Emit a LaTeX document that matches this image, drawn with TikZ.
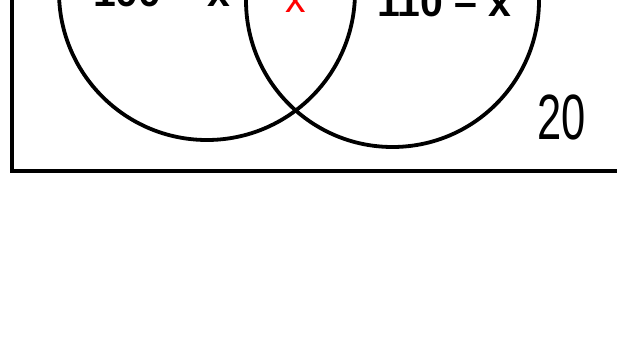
\documentclass[tikz,border=0pt]{standalone}
\usepackage{fontspec}
\setmainfont{Liberation Sans}
\begin{document}
\begin{tikzpicture}[x=1pt,y=-1pt,
  stroke/.style={line width=3.8pt,black},
  lbl/.style={inner sep=0pt,anchor=base west,font=\bfseries\fontsize{41}{41}\selectfont},
  bigl/.style={inner sep=0pt,anchor=base west,font=\fontsize{64}{64}\selectfont}]
\useasboundingbox (0,0) rectangle (617,362);
\clip (0,0) rectangle (617,362);
\draw[stroke] (12,-10) -- (12,171) -- (620,171);
\draw[stroke] (207,-8) circle[radius=148];
\draw[stroke] (392.5,0.5) circle[radius=146.5];
\node[lbl] (a) at (93,6) {100 – x};
\node[lbl,text=red,font=\fontsize{41}{41}\selectfont] (b) at (285,12) {x};
\node[lbl] (c) at (377,16) {110 – x};
\node[bigl,xscale=0.68] (d) at (537,139) {20};
\end{tikzpicture}
\end{document}
